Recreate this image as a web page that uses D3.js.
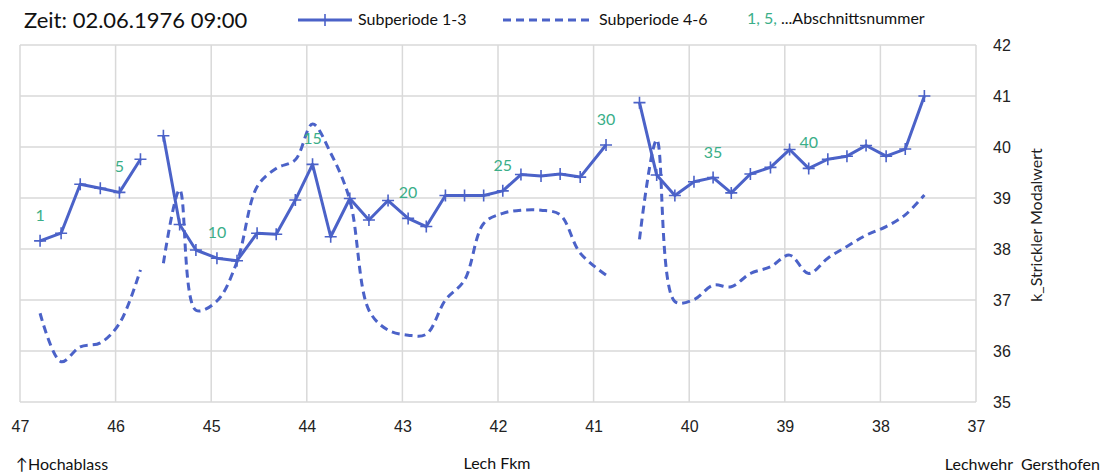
<!DOCTYPE html>
<html>
<head>
<meta charset="utf-8">
<script src="https://cdn.jsdelivr.net/npm/d3@7"></script>
<style>
  body { margin: 0; background: #fff; }
  svg { display: block; font-family: Lato, "Open Sans", sans-serif; }
  .tick text { font-size: 16px; fill: #222; }
  .grid line { stroke: #d9d9d9; stroke-width: 1.5; }
</style>
</head>
<body>
<svg id="chart" width="1105" height="475"></svg>
<script>
// Flusskilometer der Abschnitte 1..46
const fkm = [46.79, 46.57, 46.37, 46.16, 45.96, 45.74,
  45.50, 45.33, 45.16, 44.94, 44.73, 44.52, 44.32, 44.12, 43.94, 43.75, 43.55, 43.35,
  43.15, 42.94, 42.75, 42.55, 42.35, 42.15, 41.95, 41.76, 41.55, 41.35, 41.14, 40.87,
  40.52, 40.34, 40.15, 39.95, 39.75, 39.56, 39.36, 39.15, 38.95, 38.75, 38.55, 38.35,
  38.15, 37.94, 37.74, 37.54];

// k_Strickler Modalwert, Subperiode 1-3
const sub13 = [38.16, 38.31, 39.27, 39.19, 39.11, 39.76,
  40.22, 38.48, 37.98, 37.82, 37.77, 38.31, 38.29, 38.96, 39.66, 38.24, 38.99, 38.57,
  38.95, 38.60, 38.44, 39.05, 39.05, 39.05, 39.14, 39.46, 39.43, 39.47, 39.41, 40.04,
  40.87, 39.45, 39.05, 39.32, 39.40, 39.10, 39.47, 39.60, 39.95, 39.58, 39.76, 39.82,
  40.03, 39.82, 39.96, 41.00];

// k_Strickler Modalwert, Subperiode 4-6
const sub46 = [36.74, 35.79, 36.08, 36.16, 36.54, 37.59,
  37.72, 39.16, 36.80, 36.98, 37.75, 39.22, 39.58, 39.75, 40.45, 39.88, 38.96, 36.80,
  36.41, 36.31, 36.33, 37.00, 37.39, 38.50, 38.70, 38.76, 38.76, 38.67, 37.92, 37.49,
  38.19, 40.14, 36.97, 37.01, 37.29, 37.26, 37.52, 37.65, 37.88, 37.52, 37.82, 38.05,
  38.27, 38.44, 38.67, 39.06];

// Strecken (Abschnitt von..bis), dazwischen Lücken
const stretches = [[1, 6], [7, 30], [31, 46]];
const labeledSections = [1, 5, 10, 15, 20, 25, 30, 35, 40];
const xTicks = [47, 46, 45, 44, 43, 42, 41, 40, 39, 38, 37];
const yTicks = [35, 36, 37, 38, 39, 40, 41, 42];

const blue = '#4b62c8';
const green = '#3aae88';

const svg = d3.select('#chart');

const x = d3.scaleLinear().domain([47, 37]).range([20, 976]);
const y = d3.scaleLinear().domain([35, 42]).range([402, 45]);

// Gitter
const grid = svg.append('g').attr('class', 'grid');
grid.selectAll('.v').data(xTicks).enter().append('line')
  .attr('x1', d => x(d)).attr('x2', d => x(d))
  .attr('y1', y(42)).attr('y2', y(35));
grid.selectAll('.h').data(yTicks).enter().append('line')
  .attr('x1', x(47)).attr('x2', x(37))
  .attr('y1', d => y(d)).attr('y2', d => y(d));

// Achsen
const xAxis = svg.append('g')
  .attr('transform', 'translate(0,421)')
  .call(d3.axisBottom(x).tickValues(xTicks).tickFormat(d3.format('d')).tickSize(0).tickPadding(0));
xAxis.select('.domain').remove();

const yAxis = svg.append('g')
  .attr('transform', 'translate(993,0)')
  .call(d3.axisRight(y).tickValues(yTicks).tickFormat(d3.format('d')).tickSize(0).tickPadding(0));
yAxis.select('.domain').remove();

svg.append('text')
  .attr('transform', 'translate(1042,225) rotate(-90)')
  .attr('text-anchor', 'middle')
  .attr('font-size', 16).attr('fill', '#222')
  .text('k_Strickler Modalwert');

// Daten je Strecke
const rows = fkm.map((k, i) => ({ no: i + 1, k, a: sub13[i], b: sub46[i] }));
const parts = stretches.map(([s, e]) => rows.filter(r => r.no >= s && r.no <= e));

const lineA = d3.line().x(d => x(d.k)).y(d => y(d.a));
const lineB = d3.line().x(d => x(d.k)).y(d => y(d.b)).curve(d3.curveCatmullRom.alpha(0.5));

svg.append('g').selectAll('path').data(parts).enter().append('path')
  .attr('d', lineB)
  .attr('fill', 'none').attr('stroke', blue)
  .attr('stroke-width', 3).attr('stroke-dasharray', '8,5');

svg.append('g').selectAll('path').data(parts).enter().append('path')
  .attr('d', lineA)
  .attr('fill', 'none').attr('stroke', blue)
  .attr('stroke-width', 3).attr('stroke-linejoin', 'round');

// Marker "+"
const plus = 'M-6,0H6M0,-6V6';
svg.append('g').selectAll('path').data(rows).enter().append('path')
  .attr('transform', d => `translate(${x(d.k)},${y(d.a)})`)
  .attr('d', plus)
  .attr('stroke', blue).attr('stroke-width', 1.6);

// Abschnittsnummern
svg.append('g').selectAll('text')
  .data(rows.filter(r => labeledSections.includes(r.no)))
  .enter().append('text')
  .attr('x', d => x(d.k))
  .attr('y', d => y(d.a) - 20)
  .attr('text-anchor', 'middle')
  .attr('font-size', 16).attr('fill', green)
  .text(d => d.no);

// Titel und Legende
svg.append('text')
  .attr('x', 24).attr('y', 28)
  .attr('font-size', 22).attr('fill', '#111')
  .text('Zeit: 02.06.1976 09:00');

const legend = svg.append('g');
legend.append('line')
  .attr('x1', 298).attr('x2', 352).attr('y1', 20).attr('y2', 20)
  .attr('stroke', blue).attr('stroke-width', 3);
legend.append('path')
  .attr('transform', 'translate(325,20)')
  .attr('d', plus)
  .attr('stroke', blue).attr('stroke-width', 1.6);
legend.append('text')
  .attr('x', 358).attr('y', 25)
  .attr('font-size', 16).attr('fill', '#111')
  .text('Subperiode 1-3');

legend.append('line')
  .attr('x1', 503).attr('x2', 592).attr('y1', 20).attr('y2', 20)
  .attr('stroke', blue).attr('stroke-width', 3).attr('stroke-dasharray', '8,5');
legend.append('text')
  .attr('x', 599).attr('y', 25)
  .attr('font-size', 16).attr('fill', '#111')
  .text('Subperiode 4-6');

const note = legend.append('text')
  .attr('x', 747).attr('y', 24)
  .attr('font-size', 16).attr('fill', '#111');
note.append('tspan').attr('fill', green).text('1, 5, ');
note.append('tspan').text('...Abschnittsnummer');

// Beschriftung unten
svg.append('text')
  .attr('x', 16).attr('y', 470)
  .attr('font-size', 16).attr('fill', '#111')
  .text('↑Hochablass');
svg.append('text')
  .attr('x', 497).attr('y', 469)
  .attr('text-anchor', 'middle')
  .attr('font-size', 16).attr('fill', '#111')
  .text('Lech Fkm');
svg.append('text')
  .attr('x', 1100).attr('y', 470)
  .attr('text-anchor', 'end')
  .attr('font-size', 16).attr('fill', '#111')
  .style('white-space', 'pre')
  .text('Lechwehr  Gersthofen');
</script>
</body>
</html>
